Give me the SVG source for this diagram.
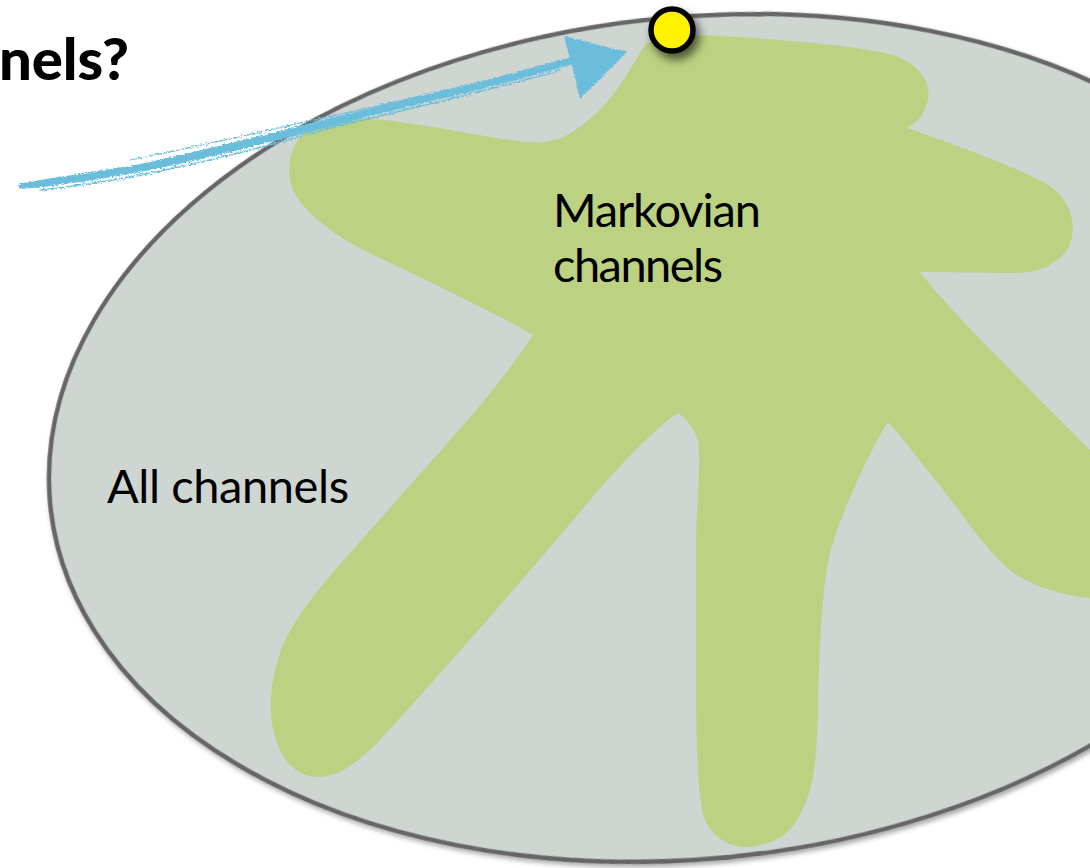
<svg xmlns="http://www.w3.org/2000/svg" width="1090" height="868" viewBox="0 0 1090 868">
  <style>
    .label { font-family: Lato, "Open Sans", "Liberation Sans", sans-serif; font-size: 47px; fill: #000000; }
    .title { font-family: Lato, "Open Sans", "Liberation Sans", sans-serif; font-size: 58px; font-weight: 900; fill: #000000; }
    .set-all { fill: #CFD5D1; stroke: #666666; stroke-width: 4.5; }
    .set-markov { fill: #BCD181; }
    .brush { fill: #6BBDDB; }
    .streak { fill: none; stroke: #6BBDDB; stroke-linecap: round; }
  </style>
  <defs>
    <filter id="softShadow" x="-10%" y="-10%" width="120%" height="120%">
      <feDropShadow dx="2" dy="3" stdDeviation="2.5" flood-color="#000000" flood-opacity="0.35"/>
    </filter>
    <filter id="dotShadow" x="-60%" y="-60%" width="220%" height="220%">
      <feDropShadow dx="4" dy="6" stdDeviation="5" flood-color="#000000" flood-opacity="0.6"/>
    </filter>
    <filter id="rough" x="-5%" y="-20%" width="110%" height="140%">
      <feTurbulence type="fractalNoise" baseFrequency="0.35 0.9" numOctaves="2" seed="4" result="noise"/>
      <feDisplacementMap in="SourceGraphic" in2="noise" scale="4" xChannelSelector="R" yChannelSelector="G"/>
    </filter>
  </defs>

  <!-- title fragment, running off the left edge -->
  <text class="title" x="129" y="80" text-anchor="end" textLength="130">nels?</text>

  <!-- outer set: all channels -->
  <g id="all-channels">
    <ellipse class="set-all" cx="0" cy="0" rx="644" ry="422" transform="translate(693,438) skewY(-3.55)" filter="url(#softShadow)"/>
    <text class="label" x="107" y="503" textLength="242">All channels</text>
  </g>

  <!-- inner set: Markovian channels (star-like blob) -->
  <g id="markovian-channels">
    <path class="set-markov" d="M 907,128
      C 950,143 1020,168 1050,186
      C 1078,205 1080,245 1057,260
      C 1045,270 1030,273 1015,273
      C 980,273 950,272 920,272
      C 945,305 1000,360 1120,480
      L 1120,600 L 1090,598
      C 1060,595 1030,585 1010,570
      C 985,550 960,510 933,477
      C 915,455 900,435 888,422
      C 870,450 845,505 832,545
      C 822,580 820,640 818,700
      C 817,760 815,790 797,820
      C 788,835 775,842 760,845
      C 735,852 715,840 705,820
      C 698,800 697,760 696,700
      L 696,540
      C 697,500 701,460 698,440
      C 694,428 686,418 678,413
      C 655,428 620,465 590,500
      C 540,560 440,675 377,743
      C 355,765 335,778 317,777
      C 300,776 285,765 278,745
      C 268,720 268,690 280,653
      C 295,610 340,565 397,500
      C 440,450 490,400 533,335
      C 500,315 430,282 380,258
      C 340,240 305,215 293,190
      C 285,170 290,145 305,133
      C 325,118 360,116 400,122
      C 460,130 520,145 545,142
      C 565,140 580,128 600,110
      C 620,90 635,60 645,45
      C 660,35 700,35 720,36
      C 790,40 850,46 880,52
      C 915,58 932,80 928,100
      C 925,115 915,124 907,128 Z"/>
    <text class="label" x="553" y="227" textLength="208">Markovian</text>
    <text class="label" x="553" y="282" textLength="170">channels</text>
  </g>

  <!-- hand-drawn arrow -->
  <g id="connectors">
    <g filter="url(#rough)">
      <path class="brush" d="M 18,184 C 60,176 110,170 150,162 C 250,140 380,104 470,84 C 510,74 545,64 572,57
        L 574,64 C 545,72 510,82 470,92 C 380,112 250,150 150,170 C 110,178 60,186 20,189 Z"/>
      <path class="brush" d="M 564,36 L 627,52 L 580,99 C 576,80 570,58 564,36 Z"/>
      <path class="streak" stroke-width="1.5" d="M 40,190 C 120,182 220,160 330,128 C 420,106 500,88 560,70"/>
      <path class="streak" stroke-width="1.2" d="M 130,160 C 220,142 330,116 430,94"/>
    </g>
  </g>

  <!-- marked channel on the boundary -->
  <g id="point">
    <circle cx="672" cy="30" r="21" fill="#FFF200" stroke="#000000" stroke-width="5.5" filter="url(#dotShadow)"/>
  </g>
</svg>
